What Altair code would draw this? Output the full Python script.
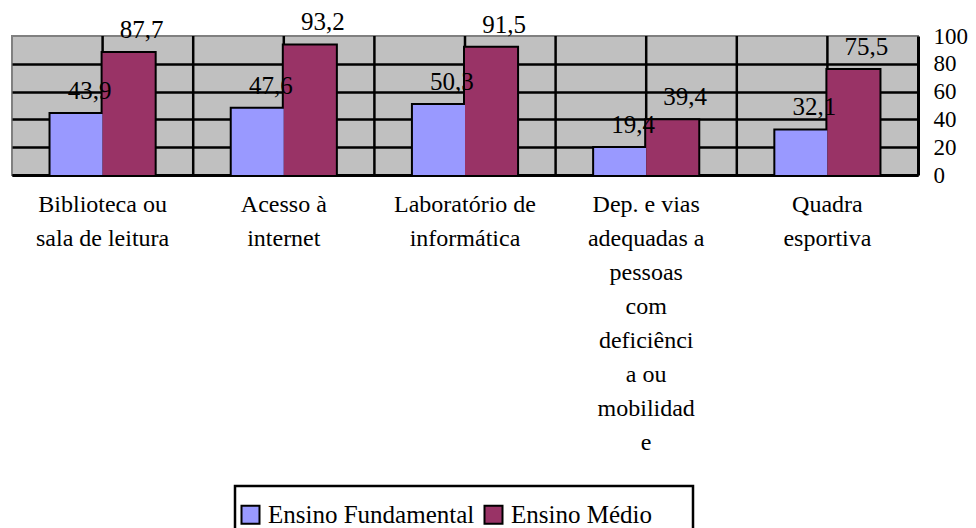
import altair as alt
import pandas as pd

categories = [
    "Biblioteca ou\nsala de leitura",
    "Acesso à\ninternet",
    "Laboratório de\ninformática",
    "Dep. e vias\nadequadas a\npessoas\ncom\ndeficiênci\na ou\nmobilidad\ne",
    "Quadra\nesportiva",
]
series = ["Ensino Fundamental", "Ensino Médio"]
fundamental = [43.9, 47.6, 50.3, 19.4, 32.1]
medio = [87.7, 93.2, 91.5, 39.4, 75.5]
y_ticks = [0, 20, 40, 60, 80, 100]
colors = ["#9999FF", "#993366"]

rows = []
for c, f, m in zip(categories, fundamental, medio):
    rows.append({"cat": c, "series": series[0], "value": f})
    rows.append({"cat": c, "series": series[1], "value": m})
df = pd.DataFrame(rows)
df["label"] = df["value"].map(lambda v: f"{v:.1f}".replace(".", ","))
cat_df = pd.DataFrame({"cat": categories})

FONT = "Liberation Serif"

x_scale = alt.Scale(domain=categories, paddingInner=0, paddingOuter=0)
x_axis = alt.Axis(
    title=None, orient="bottom", labelAngle=0, ticks=False,
    domain=True, domainColor="black", domainWidth=3,
    labelExpr="split(datum.label, '\\n')",
    labelFont=FONT, labelFontSize=24, labelColor="black",
    labelLineHeight=34, labelPadding=17, labelLimit=600, grid=False,
)
y_scale = alt.Scale(domain=[0, 100], nice=False)
y_axis = alt.Axis(
    title=None, orient="right", values=y_ticks, ticks=False,
    domain=True, domainColor="black", domainWidth=3,
    grid=True, gridColor="black", gridWidth=2.5,
    gridOpacity=alt.condition("datum.value == 100", alt.value(0), alt.value(1)),
    labelFont=FONT, labelFontSize=23, labelColor="black",
    labelPadding=15, labelBaseline="middle", labelAlign="left",
)
xoff = alt.XOffset("series:N", scale=alt.Scale(domain=series, paddingOuter=0.74, paddingInner=0))
# trailing blank space inside the legend box (zero-width char keeps it from being trimmed)
tail = "\u00a0" * 6 + "\u200b"
color = alt.Color(
    "series:N",
    scale=alt.Scale(domain=series, range=colors),
    legend=alt.Legend(
        orient="none", legendX=223, legendY=450, direction="horizontal",
        title="\u00a0\u00a0\u200b", titleFontSize=10, titlePadding=3,
        padding=3, strokeColor="black", fillColor="white",
        symbolType="square", symbolSize=324, symbolStrokeColor="black",
        symbolStrokeWidth=2,
        labelExpr=f"datum.label == '{series[1]}' ? datum.label + '{tail}' : datum.label",
        labelFont=FONT, labelFontSize=25, labelColor="black",
        labelOffset=5, columnPadding=5, labelLimit=600,
    ),
)

center_rules = alt.Chart(cat_df).mark_rule(color="black", strokeWidth=2.5).encode(
    x=alt.X("cat:N", scale=x_scale, axis=x_axis, sort=None)
)
edge_rules = alt.Chart(cat_df).transform_filter(
    alt.datum.cat != categories[0]
).mark_rule(color="black", strokeWidth=2.5).encode(
    x=alt.X("cat:N", scale=x_scale, axis=x_axis, sort=None, bandPosition=0)
)

base = alt.Chart(df).encode(
    x=alt.X("cat:N", scale=x_scale, axis=x_axis, sort=None),
    xOffset=xoff,
    y=alt.Y("value:Q", scale=y_scale, axis=y_axis),
)
outline = base.mark_bar(stroke="black", strokeWidth=4).encode(color=color)
bars = base.mark_bar(strokeWidth=0).encode(color=color)
texts = base.mark_text(
    font=FONT, fontSize=25, color="black", dx=13, dy=-23, baseline="middle"
).encode(text="label:N")

chart = alt.layer(center_rules, edge_rules, outline, bars, texts).properties(
    width=906, height=139,
    autosize=alt.AutoSizeParams(type="none"),
    padding={"left": 4, "top": 28, "right": 50, "bottom": 353},
).configure(font=FONT).configure_view(
    fill="#C0C0C0", stroke="#808080", strokeWidth=2
).configure_legend(strokeWidth=2.5)

chart.save("out.html", embed_options={"renderer": "svg", "actions": False})
